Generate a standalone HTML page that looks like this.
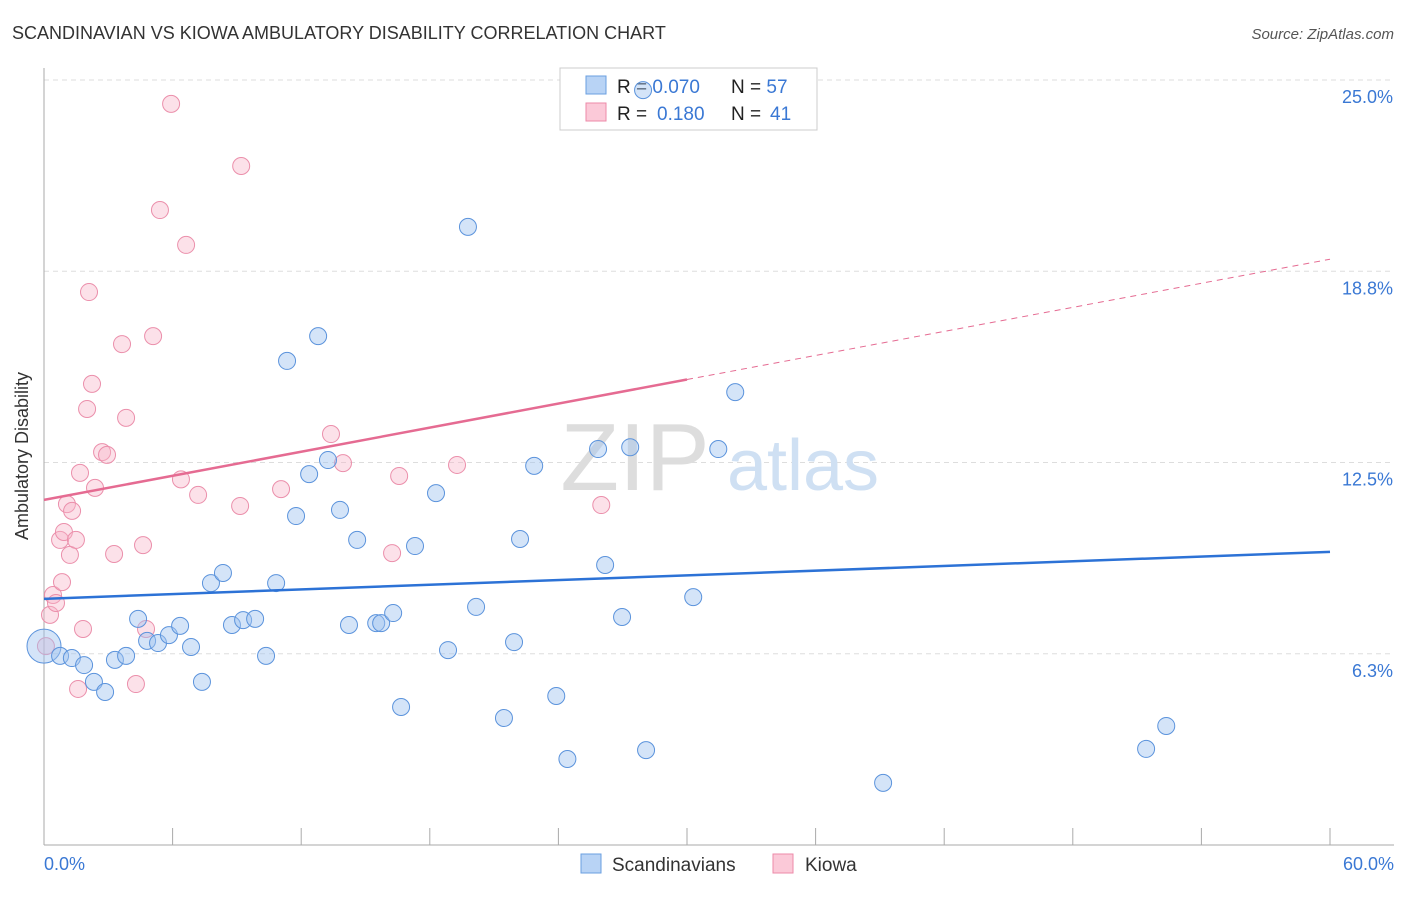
<!DOCTYPE html>
<html><head><meta charset="utf-8"><style>
body{margin:0;background:#fff;font-family:"Liberation Sans",sans-serif;}
svg text{font-family:"Liberation Sans",sans-serif;}
</style></head><body>
<svg width="1406" height="892" xmlns="http://www.w3.org/2000/svg">
<text x="12" y="39" font-size="18" fill="#333">SCANDINAVIAN VS KIOWA AMBULATORY DISABILITY CORRELATION CHART</text>
<text x="1394" y="39" font-size="15" fill="#555" font-style="italic" text-anchor="end">Source: ZipAtlas.com</text>
<g id="grid"></g>
<g>
<text x="635" y="490" font-size="96" fill="#ddd" text-anchor="middle" font-family="Liberation Serif">ZIP</text>
<text x="803" y="490" font-size="72" fill="#cfe0f3" text-anchor="middle">atlas</text>
</g>
<g id="axes"></g>
<g>
<rect x="560" y="68" width="257" height="62" fill="#fff" stroke="#ccc"/>
<rect x="586" y="76" width="20" height="18" fill="#b8d3f5" stroke="#6a9fe0"/>
<rect x="586" y="103" width="20" height="18" fill="#fbc9d8" stroke="#ec8aa8"/>
<text x="617" y="93" font-size="19" fill="#222">R = <tspan fill="#3a78d4">0.070</tspan><tspan x="731">N = </tspan><tspan fill="#3a78d4">57</tspan></text>
<text x="617" y="120" font-size="19" fill="#222">R = <tspan x="657" fill="#3a78d4">0.180</tspan><tspan x="731">N = </tspan><tspan x="770" fill="#3a78d4">41</tspan></text>
</g>
<g id="pts"></g>
<g id="trends"></g>
<text x="28" y="456" font-size="18" fill="#333" text-anchor="middle" transform="rotate(-90 28 456)">Ambulatory Disability</text>
<g>
<rect x="581" y="854" width="20" height="19" fill="#b8d3f5" stroke="#6a9fe0"/>
<text x="612" y="871" font-size="19" fill="#333">Scandinavians</text>
<rect x="773" y="854" width="20" height="19" fill="#fbc9d8" stroke="#ec8aa8"/>
<text x="805" y="871" font-size="19" fill="#333">Kiowa</text>
</g>
</svg>
<script>
const yTicks=[6.25,12.5,18.75,25];
const yTickLabels=["6.3%","12.5%","18.8%","25.0%"];
const xTickLabels=["0.0%","60.0%"];
const blueX=[0,0.75,1.3,1.87,2.33,2.85,3.31,3.83,4.39,4.81,5.32,5.83,6.35,6.86,7.37,7.79,8.35,8.77,9.29,9.85,10.36,10.83,11.34,11.76,12.37,12.79,13.25,13.81,14.23,14.61,15.5,15.73,16.29,16.66,17.31,18.29,18.85,19.78,20.16,21.46,21.93,22.21,22.87,23.9,24.42,25.85,26.18,26.97,27.35,27.95,28.09,30.29,31.46,32.25,39.15,51.42,52.36];
const blueY=[6.50,6.18,6.11,5.88,5.33,5.00,6.05,6.18,7.39,6.67,6.60,6.86,7.16,6.47,5.33,8.56,8.89,7.19,7.35,7.39,6.18,8.56,15.82,10.75,12.12,16.63,12.58,10.95,7.19,9.97,7.25,7.25,7.58,4.51,9.77,11.50,6.37,20.2,7.78,4.15,6.63,10.0,12.39,4.87,2.81,12.94,9.15,7.45,13.0,24.67,3.10,8.10,12.94,14.80,2.03,3.14,3.89];
const pinkX=[0.09,0.28,0.42,0.56,0.75,0.84,0.93,1.07,1.21,1.31,1.49,1.59,1.68,1.82,2.01,2.1,2.24,2.38,2.71,2.94,3.27,3.64,3.83,4.29,4.62,4.76,5.09,5.41,5.93,6.39,6.63,7.19,9.15,9.2,11.06,13.39,13.95,16.24,16.57,19.27,26.0];
const pinkY=[6.50,7.52,8.17,7.91,9.97,8.59,10.23,11.14,9.48,10.92,9.97,5.10,12.16,7.06,14.25,18.07,15.07,11.67,12.84,12.75,9.51,16.37,13.96,5.26,9.80,7.06,16.63,20.75,24.22,11.95,19.61,11.44,11.08,22.19,11.63,13.43,12.48,9.54,12.06,12.42,11.11];
const X=v=>44+v*(1286/60), Y=v=>845-v*30.6;
const NS="http://www.w3.org/2000/svg";
function mk(t,a,p){const e=document.createElementNS(NS,t);for(const k in a)e.setAttribute(k,a[k]);p.appendChild(e);return e;}
const grid=document.getElementById('grid'),axes=document.getElementById('axes'),pts=document.getElementById('pts'),tr=document.getElementById('trends');
yTicks.forEach((t,i)=>{
 const l=mk('line',{x1:44,x2:1394,y1:Y(t),y2:Y(t),stroke:'#ddd','stroke-dasharray':'5,4'},grid);
 
 
 const tx=mk('text',{x:1393,y:Y(t)+23,'font-size':18,fill:'#3a78d4','text-anchor':'end'},axes);
 tx.textContent=yTickLabels[i];
 
 
});
mk('line',{x1:44,x2:44,y1:68,y2:845,stroke:'#aaa'},axes);
mk('line',{x1:44,x2:1394,y1:845,y2:845,stroke:'#aaa'},axes);
for(let i=1;i<=10;i++){mk('line',{x1:X(i*6),x2:X(i*6),y1:828,y2:845,stroke:'#aaa'},axes);}
[[0,'start',44],[60,'end',1394]].forEach((d,i)=>{const t=mk('text',{x:d[2],y:870,'font-size':18,fill:'#3a78d4','text-anchor':d[1]},axes);t.textContent=xTickLabels[i];
 
 });
pinkX.forEach((x,i)=>{const c=mk('circle',{cx:X(x),cy:Y(pinkY[i]),r:8.5,fill:'rgba(248,180,200,0.4)',stroke:'#eb8fab','stroke-width':1},pts);
 
 });
blueX.forEach((x,i)=>{const c=mk('circle',{cx:X(x),cy:Y(blueY[i]),r:i==0?17:8.5,fill:'rgba(160,195,240,0.45)',stroke:'#5b93dc','stroke-width':1},pts);
 
 });
function fit(xs,ys){const n=xs.length,mx=xs.reduce((a,b)=>a+b)/n,my=ys.reduce((a,b)=>a+b)/n;let sxy=0,sxx=0;xs.forEach((x,i)=>{sxy+=(x-mx)*(ys[i]-my);sxx+=(x-mx)**2});const b=sxy/sxx;return [my-b*mx,b];}
const bf=fit(blueX,blueY),pf=fit(pinkX,pinkY);
let l=mk('line',{x1:X(0),y1:Y(bf[0]),x2:X(60),y2:Y(bf[0]+bf[1]*60),stroke:'#2c72d6','stroke-width':2.5},tr);


l=mk('line',{x1:X(0),y1:Y(pf[0]),x2:X(30),y2:Y(pf[0]+pf[1]*30),stroke:'#e56b92','stroke-width':2.5},tr);


l=mk('line',{x1:X(30),y1:Y(pf[0]+pf[1]*30),x2:X(60),y2:Y(pf[0]+pf[1]*60),stroke:'#e56b92','stroke-width':1,'stroke-dasharray':'6,5'},tr);


</script>
</body></html>
